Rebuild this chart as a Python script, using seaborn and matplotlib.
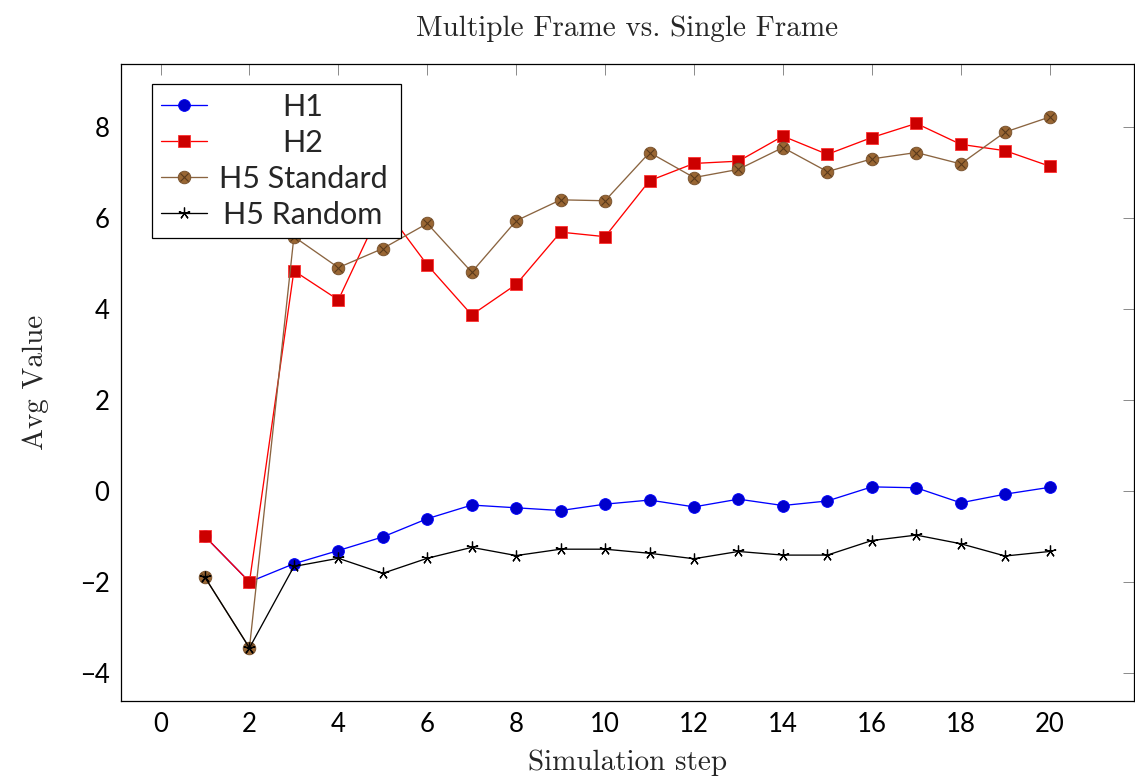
import matplotlib
matplotlib.use("Agg")
import matplotlib.pyplot as plt
import seaborn as sns
import pandas as pd
from matplotlib.transforms import Bbox
from matplotlib.legend_handler import HandlerTuple

# Average value per simulation step for each heuristic
steps = list(range(1, 21))
h1 = [-1.00, -2.00, -1.60, -1.31, -1.01, -0.61, -0.31, -0.37, -0.43, -0.29,
      -0.20, -0.35, -0.18, -0.32, -0.22, 0.09, 0.07, -0.26, -0.07, 0.08]
h2 = [-1.00, -2.00, 4.84, 4.20, 6.28, 4.97, 3.87, 4.54, 5.69, 5.59,
      6.82, 7.20, 7.25, 7.80, 7.40, 7.77, 8.08, 7.62, 7.48, 7.14]
h5_standard = [-1.90, -3.45, 5.59, 4.91, 5.33, 5.88, 4.81, 5.94, 6.40, 6.38,
               7.44, 6.89, 7.07, 7.55, 7.02, 7.30, 7.44, 7.19, 7.89, 8.22]
h5_random = [-1.90, -3.45, -1.66, -1.48, -1.81, -1.48, -1.24, -1.42, -1.28, -1.28,
             -1.37, -1.49, -1.33, -1.41, -1.41, -1.09, -0.97, -1.16, -1.43, -1.33]

series_names = ["H1", "H2", "H5 Standard", "H5 Random"]
x_ticks = [0, 2, 4, 6, 8, 10, 12, 14, 16, 18, 20]
y_ticks = [-4, -2, 0, 2, 4, 6, 8]

df = pd.DataFrame({
    "step": steps * 4,
    "value": h1 + h2 + h5_standard + h5_random,
    "series": sum([[n] * len(steps) for n in series_names], []),
})

sns.set_theme(style="white")
plt.rcParams["font.family"] = ["Lato", "DejaVu Sans"]
plt.rcParams["axes.unicode_minus"] = True

fig = plt.figure(figsize=(11.35, 7.80), dpi=100)
ax = fig.add_axes([0.1062, 0.1013, 0.8930, 0.8167])

styles = {
    "H1": dict(color="#0000FF", marker="o", markersize=8.5,
               markerfacecolor="#0000CC", markeredgecolor="#0000FF", markeredgewidth=0.6),
    "H2": dict(color="#FF0000", marker="s", markersize=8.0,
               markerfacecolor="#CC0000", markeredgecolor="#FF3030", markeredgewidth=0.6),
    "H5 Standard": dict(color="#8a6440", marker="o", markersize=9.0,
                        markerfacecolor="#996633", markeredgecolor="#7a5430", markeredgewidth=0.7),
    "H5 Random": dict(color="#000000", marker=(5, 2, 0), markersize=8.5,
                      markerfacecolor="none", markeredgecolor="#000000", markeredgewidth=0.9),
}

handles = {}
for name in series_names:
    sub = df[df["series"] == name]
    sns.lineplot(data=sub, x="step", y="value", ax=ax, linewidth=0.95,
                 estimator=None, sort=False, legend=False, **styles[name])
    handles[name] = ax.lines[-1]
    if name == "H5 Standard":
        # cross inside the circle (otimes marker)
        sns.lineplot(data=sub, x="step", y="value", ax=ax, linewidth=0,
                     estimator=None, sort=False, legend=False,
                     marker="x", markersize=5.5, markeredgewidth=0.8,
                     color="#5a3a1c", markeredgecolor="#5a3a1c")
        handles[name] = (handles[name], ax.lines[-1])

# Axis ranges padded by 10% of the data range
xmin, xmax = min(steps), max(steps)
all_vals = h1 + h2 + h5_standard + h5_random
ymin, ymax = min(all_vals), max(all_vals)
ax.set_xlim(xmin - 0.1 * (xmax - xmin), xmax + 0.1 * (xmax - xmin))
ax.set_ylim(ymin - 0.1 * (ymax - ymin), ymax + 0.1 * (ymax - ymin))
ax.set_xticks(x_ticks)
ax.set_yticks(y_ticks)

for s in ax.spines.values():
    s.set_visible(True)
    s.set_color("#000000")
    s.set_linewidth(0.9)

ax.tick_params(axis="both", which="major", direction="in", length=8, width=0.7,
               color="#8a8a8a", top=True, right=True, labelsize=18.5,
               labelcolor="#000000")
ax.tick_params(axis="x", pad=8)
ax.tick_params(axis="y", pad=8)

serif = ["cmr10", "DejaVu Serif"]
ax.set_title("Multiple Frame vs. Single Frame", family=serif, fontsize=21, pad=20)
ax.set_xlabel("Simulation step", family=serif, fontsize=21, labelpad=9)
ax.set_ylabel("Avg Value", family=serif, fontsize=21, labelpad=22)

leg = ax.legend([handles[n] for n in series_names], series_names,
                loc="upper left", bbox_to_anchor=(0.031, 0.969),
                handler_map={tuple: HandlerTuple(ndivide=1, pad=0)},
                fontsize=22, frameon=True, fancybox=False, shadow=False,
                framealpha=1, edgecolor="#000000", borderpad=0.3,
                labelspacing=0.26, handlelength=1.5, handletextpad=0.25,
                borderaxespad=0)
leg.get_frame().set_linewidth(0.9)

# Center the legend labels within their column
fig.canvas.draw()
renderer = fig.canvas.get_renderer()
texts = leg.get_texts()
wmax = max(t.get_window_extent(renderer).width for t in texts) + 8
for t in texts:
    t.set_horizontalalignment("center")
for col in leg._legend_handle_box.get_children():
    for item in col.get_children():
        ta = item.get_children()[1]
        orig = ta.get_bbox

        def centered_bbox(rend, _orig=orig):
            b = _orig(rend)
            return Bbox.from_bounds(-wmax / 2, b.y0, wmax, b.height)

        ta.get_bbox = centered_bbox

fig.savefig("out.png", dpi=100)
